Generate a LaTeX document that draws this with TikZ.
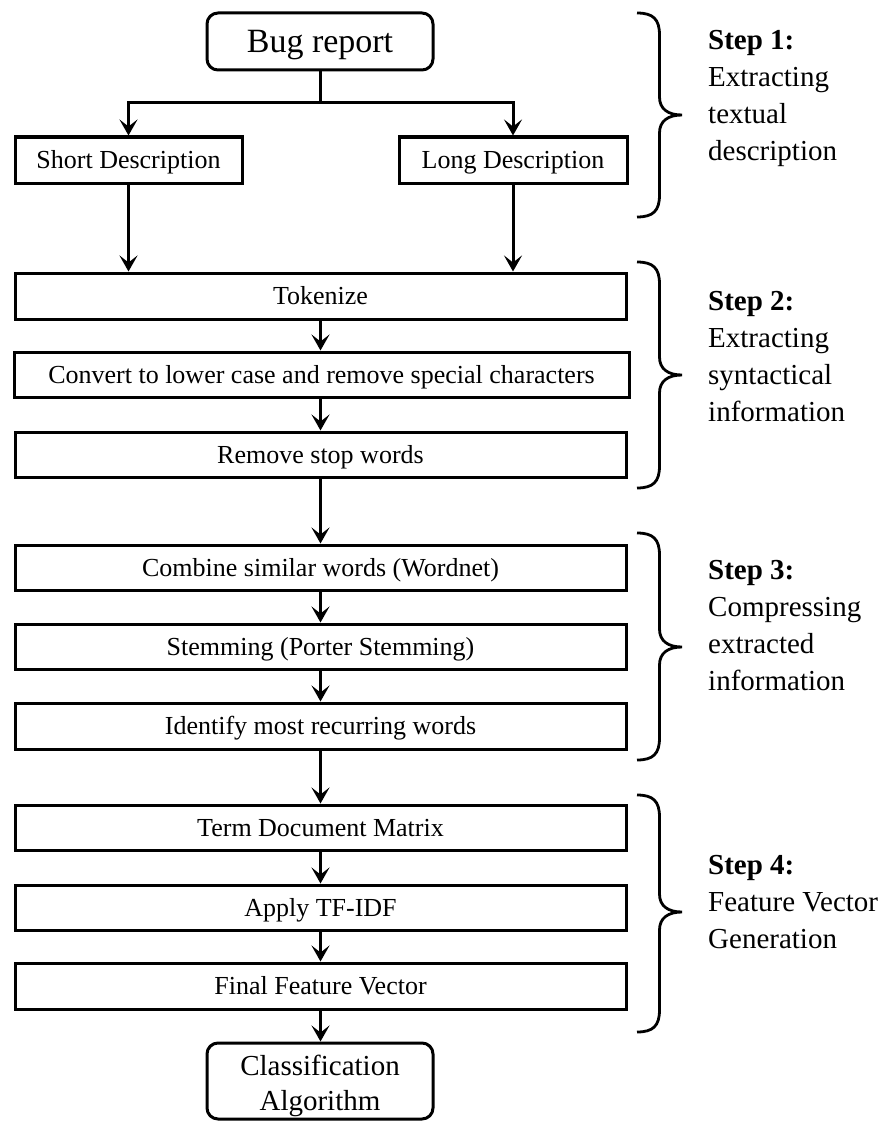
\documentclass[tikz,border=0pt]{standalone}
\usepackage{fontspec}
\setmainfont{Liberation Serif}
\usetikzlibrary{arrows.meta}

% Curly bracket on the right of a group of steps: top y, tip y, bottom y
\newcommand{\sidebrace}[3]{%
  \draw[bracket] (637,#1) .. controls (653,#1) and (659.5,{#1+6}) .. (659.5,{#1+22})
    -- (659.5,{#2-18}) .. controls (659.5,{#2-6}) and (668,#2) .. (682,#2)
    .. controls (668,#2) and (659.5,{#2+6}) .. (659.5,{#2+18})
    -- (659.5,{#3-22}) .. controls (659.5,{#3-6}) and (653,#3) .. (637,#3);}

\tikzset{
  box/.style={draw, line width=3pt, minimum width=611pt, minimum height=45pt,
    inner sep=0pt, text height=17.2pt, text depth=0pt,
    font=\fontsize{26}{31}\selectfont},
  endbox/.style={draw, line width=3pt, rounded corners=11pt, minimum width=226pt,
    inner sep=0pt, align=center},
  flow/.style={line width=3pt, -{Stealth[length=16pt,width=18pt,inset=7pt]}},
  link/.style={line width=3pt},
  bracket/.style={line width=2.8pt},
  steplabel/.style={anchor=north west, inner sep=0pt, align=left,
    font=\fontsize{29}{37}\selectfont},
}

\begin{document}
\begin{tikzpicture}[x=1pt,y=-1pt]
  \fill[white] (0,0) rectangle (883,1121);
  \useasboundingbox (0,0) rectangle (883,1121);

  % input
  \node[endbox, minimum height=57pt, text height=23pt, text depth=0pt,
        font=\fontsize{34}{40}\selectfont] (bug) at (320,41.5) {Bug report};
  \node[box, minimum width=227pt, minimum height=46pt] (short) at (128.5,160) {Short Description};
  \node[box, minimum width=228pt, minimum height=46pt] (long) at (513,160) {Long Description};

  % syntactical processing
  \node[box, minimum height=46pt] (tok) at (320.5,296) {Tokenize};
  \node[box, minimum width=615pt] (conv) at (321.5,374.5) {Convert to lower case and remove special characters};
  \node[box] (stop) at (320.5,454.5) {Remove stop words};

  % compression
  \node[box] (comb) at (320.5,567.5) {Combine similar words (Wordnet)};
  \node[box] (stem) at (320.5,646.5) {Stemming (Porter Stemming)};
  \node[box, minimum height=46pt] (ident) at (320.5,726) {Identify most recurring words};

  % feature vectors
  \node[box] (tdm) at (320.5,827.5) {Term Document Matrix};
  \node[box] (tfidf) at (320.5,907.5) {Apply TF-IDF};
  \node[box, minimum height=46pt] (ffv) at (320.5,986) {Final Feature Vector};
  \node[endbox, minimum height=76pt, text height=59pt, text depth=0pt,
        font=\fontsize{29}{35}\selectfont] (cls) at (320,1081) {Classification\\Algorithm};

  % connectors
  \coordinate (split) at (320,103);
  \draw[link] (bug) -- (split);
  \draw[flow] (split) -| (short);
  \draw[flow] (split) -| (long);
  \draw[flow] (short) -- (short |- tok.north);
  \draw[flow] (long) -- (long |- tok.north);
  \draw[flow] (tok) -- (tok |- conv.north);
  \draw[flow] (conv.south -| tok) -- (tok |- stop.north);
  \draw[flow] (stop) -- (stop |- comb.north);
  \draw[flow] (comb) -- (comb |- stem.north);
  \draw[flow] (stem) -- (stem |- ident.north);
  \draw[flow] (ident) -- (ident |- tdm.north);
  \draw[flow] (tdm) -- (tdm |- tfidf.north);
  \draw[flow] (tfidf) -- (tfidf |- ffv.north);
  \draw[flow] (ffv) -- (ffv |- cls.north);

  % step brackets
  \sidebrace{13}{115}{217}
  \sidebrace{262}{375}{488}
  \sidebrace{533}{647}{760}
  \sidebrace{795}{912}{1032}

  % step descriptions
  \node[steplabel] (lab1) at (708,30) {\textbf{Step 1:}\\Extracting\\textual\\description};
  \node[steplabel] (lab2) at (708,291) {\textbf{Step 2:}\\Extracting\\syntactical\\information};
  \node[steplabel] (lab3) at (708,560) {\textbf{Step 3:}\\Compressing\\extracted\\information};
  \node[steplabel] (lab4) at (708,855) {\textbf{Step 4:}\\Feature Vector\\Generation};
\end{tikzpicture}
\end{document}
